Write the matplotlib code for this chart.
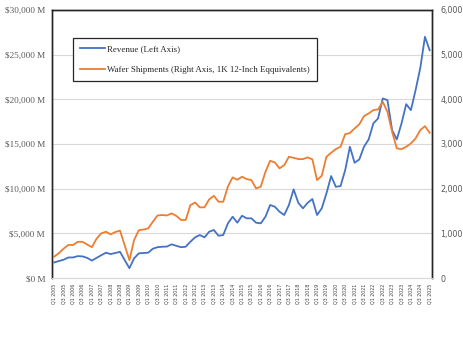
import numpy as np
import matplotlib
matplotlib.use("Agg")
import matplotlib.pyplot as plt
from matplotlib.ticker import FuncFormatter

# quarterly, Q1 2005 .. Q1 2025
quarters = [f"Q{q} {y}" for y in range(2005, 2026) for q in range(1, 5)][:81]

revenue = [1750, 1900, 2050, 2300, 2300, 2450, 2420, 2250, 1950, 2250,
           2550, 2830, 2680, 2800, 2930, 2000, 1100, 2200, 2760, 2800,
           2830, 3280, 3450, 3500, 3520, 3770, 3600, 3450, 3500, 4060,
           4550, 4810, 4550, 5180, 5370, 4730, 4810, 6120, 6860, 6190,
           6970, 6680, 6680, 6190, 6120, 6860, 8170, 7980, 7420, 7050,
           8170, 9920, 8420, 7800, 8420, 8840, 7050, 7800, 9470, 11410,
           10210, 10290, 12080, 14690, 12900, 13270, 14690, 15510, 17300, 17860,
           20100, 19910, 16550, 15510, 17300, 19460, 18790, 21030, 23500, 27000,
           25500]

wafers = [480, 560, 660, 740, 740, 810, 810, 750, 690, 880,
          1000, 1036, 977, 1030, 1060, 730, 400, 850, 1070, 1085,
          1110, 1260, 1400, 1410, 1400, 1447, 1390, 1300, 1300, 1630,
          1690, 1582, 1582, 1760, 1840, 1707, 1707, 2050, 2253, 2200,
          2267, 2215, 2192, 2006, 2043, 2378, 2624, 2588, 2454, 2528,
          2714, 2691, 2662, 2662, 2700, 2655, 2192, 2289, 2714, 2803,
          2886, 2937, 3221, 3245, 3349, 3440, 3624, 3684, 3758, 3774,
          3944, 3720, 3273, 2902, 2886, 2937, 3013, 3125, 3311, 3400,
          3251]

blue = "#4472C4"
orange = "#ED7D31"
grey = "#595959"

fig = plt.figure(figsize=(4.64, 3.40), dpi=100)
ax = fig.add_axes([52/464, 1-278/340, 380/464, 268/340])
ax2 = ax.twinx()

x = np.arange(len(quarters))
l1, = ax.plot(x, revenue, color=blue, lw=1.3, label="Revenue (Left Axis)")
l2, = ax2.plot(x, wafers, color=orange, lw=1.3,
               label="Wafer Shipments (Right Axis, 1K 12-Inch Eqquivalents)")

ax.set_xlim(-0.5, len(quarters) - 0.5)
ax.set_ylim(0, 30000)
ax2.set_ylim(0, 6000)
ax.set_yticks(np.arange(0, 30001, 5000))
ax2.set_yticks(np.arange(0, 6001, 1000))
ax.yaxis.set_major_formatter(FuncFormatter(lambda v, p: f"${v:,.0f} M"))
ax2.yaxis.set_major_formatter(FuncFormatter(lambda v, p: f"{v:,.0f}"))
ax.grid(axis="y", color="#d9d9d9", lw=0.8)
ax.set_axisbelow(True)

ax.set_xticks(x[::2])
ax.set_xticklabels(quarters[::2], rotation=90, fontsize=3.4, color="#404040")
ax.tick_params(axis="x", length=0, pad=4)
ax.tick_params(axis="y", length=0, pad=5, labelsize=6.6, labelcolor=grey)
ax2.tick_params(axis="y", length=0, pad=6, labelsize=5.8, labelcolor=grey)
for lab in ax.get_yticklabels():
    lab.set_family("Liberation Serif")

for a in (ax, ax2):
    for side in ("left", "right", "top"):
        a.spines[side].set_color("#262626")
        a.spines[side].set_linewidth(1.0)
    a.spines["bottom"].set_color("#d9d9d9")

leg = fig.legend(handles=[l1, l2], loc="upper left",
                 bbox_to_anchor=(73/464, 1-38/340), frameon=True,
                 fancybox=False, edgecolor="#262626", framealpha=1,
                 prop={"family": "Liberation Serif", "size": 6.4},
                 handlelength=2.8, handletextpad=0.2, labelspacing=1.4,
                 borderpad=0.8, borderaxespad=0)
leg.get_frame().set_linewidth(0.9)
for t in leg.get_texts():
    t.set_color("#262626")

fig.savefig("out.png", dpi=100)
